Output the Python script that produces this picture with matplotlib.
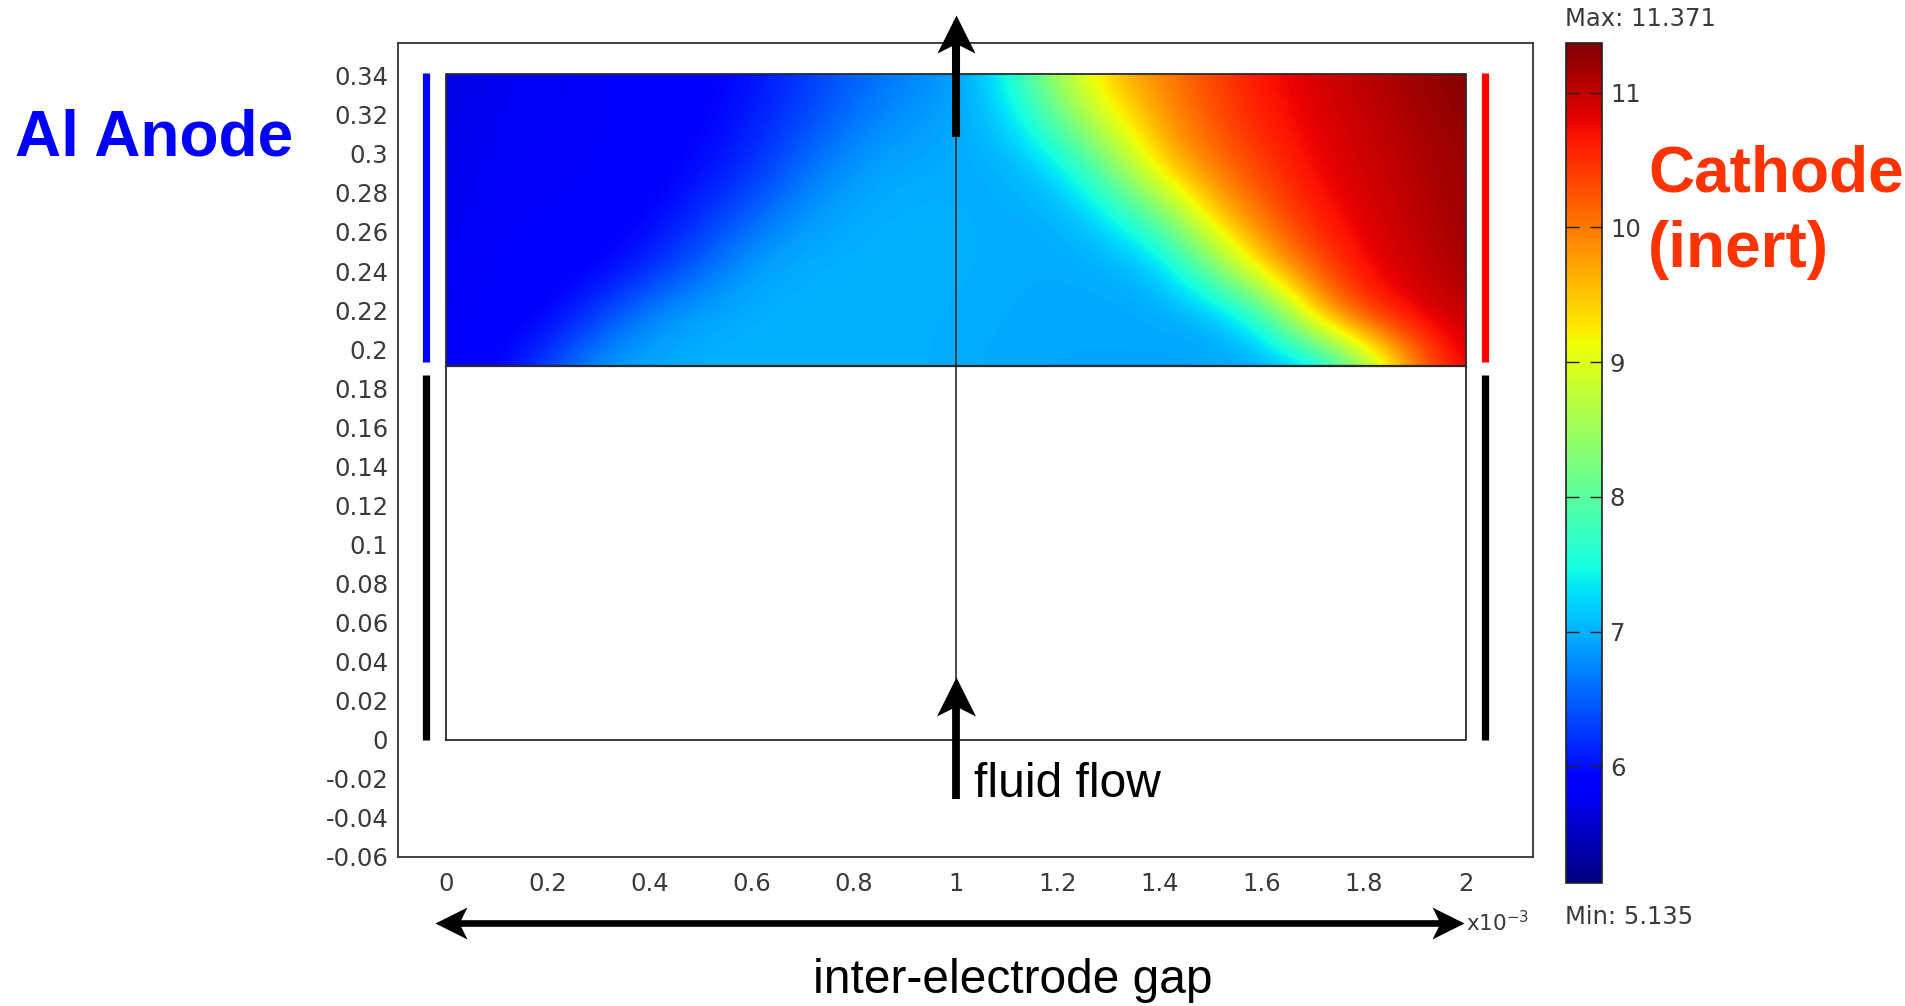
import numpy as np
import matplotlib
matplotlib.use("Agg")
import matplotlib.pyplot as plt
from matplotlib.patches import Rectangle
from matplotlib.path import Path
from matplotlib.markers import MarkerStyle
from matplotlib.ticker import FixedLocator, FuncFormatter

plt.rcParams["axes.unicode_minus"] = False

# ---------------- data ----------------
# concentration field in the electrode zone, x in units of 1e-3 m
x_nodes = [0.0, 0.1, 0.2, 0.3, 0.4, 0.5, 0.6, 0.7, 0.8, 0.9, 1.0,
           1.1, 1.2, 1.3, 1.4, 1.5, 1.6, 1.7, 1.8, 1.9, 2.0]
# rows from top (y = 0.341) to bottom (y = 0.1915) of the electrode zone
y_nodes = [0.341, 0.3161, 0.2912, 0.2663, 0.2413, 0.2164, 0.1915]
row_y0341 = [5.67, 5.76, 5.78, 5.81, 5.84, 5.88, 6.00, 6.25, 6.50, 6.70, 6.85,
             7.45, 8.65, 9.50, 9.95, 10.35, 10.70, 10.88, 11.05, 11.20, 11.37]
row_y0316 = [5.70, 5.78, 5.79, 5.81, 5.85, 5.90, 6.08, 6.35, 6.65, 6.85, 6.95,
             7.15, 8.00, 9.00, 9.75, 10.25, 10.60, 10.82, 10.97, 11.12, 11.27]
row_y0291 = [5.72, 5.80, 5.80, 5.83, 5.87, 5.98, 6.20, 6.60, 6.88, 6.97, 6.97,
             6.97, 7.20, 8.10, 9.35, 9.95, 10.40, 10.75, 10.92, 11.07, 11.22]
row_y0266 = [5.74, 5.82, 5.82, 5.85, 5.92, 6.20, 6.55, 6.88, 6.98, 7.00, 7.00,
             6.97, 6.97, 7.25, 8.00, 9.35, 10.05, 10.60, 10.85, 11.03, 11.20]
row_y0241 = [5.76, 5.84, 5.85, 5.90, 6.15, 6.55, 6.92, 7.00, 7.00, 7.00, 7.00,
             6.97, 6.96, 6.96, 7.08, 8.10, 9.45, 10.20, 10.75, 10.95, 11.15]
row_y0216 = [5.78, 5.86, 5.90, 6.30, 6.80, 6.97, 7.00, 7.00, 7.00, 7.00, 6.98,
             6.96, 6.95, 6.95, 6.95, 6.95, 7.50, 9.40, 10.40, 10.80, 11.00]
row_y0192 = [5.80, 5.90, 6.35, 6.90, 6.97, 7.00, 7.00, 7.00, 7.00, 7.00, 6.97,
             6.95, 6.93, 6.93, 6.93, 6.93, 6.93, 7.00, 8.20, 9.90, 10.85]
c_min, c_max = 5.135, 11.371
cbar_ticks = [6, 7, 8, 9, 10, 11]

# geometry of the cell
channel_x = (0.0, 2.0)
channel_bottom, electrode_bottom, channel_top = 0.0, 0.1915, 0.341
mid_x = 1.0
anode_x, cathode_x = -0.039, 2.038
active_span = (0.1935, 0.3415)
insulated_span = (0.0, 0.187)

x_ticks = [0, 0.2, 0.4, 0.6, 0.8, 1, 1.2, 1.4, 1.6, 1.8, 2]
y_ticks = [-0.06, -0.04, -0.02, 0, 0.02, 0.04, 0.06, 0.08, 0.1, 0.12, 0.14,
           0.16, 0.18, 0.2, 0.22, 0.24, 0.26, 0.28, 0.3, 0.32, 0.34]

# ---------------- figure ----------------
W, H = 1905, 1006
fig = plt.figure(figsize=(W / 100, H / 100), dpi=100)
fig.patch.set_facecolor("white")

ax = fig.add_axes([398 / W, (H - 857) / H, (1533 - 398) / W, (857 - 42.5) / H])

grid = np.array([row_y0341, row_y0316, row_y0291, row_y0266,
                 row_y0241, row_y0216, row_y0192])
dx = x_nodes[1] - x_nodes[0]
dy = y_nodes[0] - y_nodes[1]
im = ax.imshow(grid, extent=(x_nodes[0] - dx / 2, x_nodes[-1] + dx / 2,
                             y_nodes[-1] - dy / 2, y_nodes[0] + dy / 2),
               origin="upper", cmap="jet", vmin=c_min, vmax=c_max,
               interpolation="bicubic", interpolation_stage="data",
               aspect="auto", zorder=1)
clip = Rectangle((channel_x[0], electrode_bottom), channel_x[1] - channel_x[0],
                 channel_top - electrode_bottom, transform=ax.transData,
                 facecolor="none", edgecolor="none")
im.set_clip_path(clip)

# cell outline and inner lines
lc = "#2a2a2a"
ax.plot([channel_x[0], channel_x[1], channel_x[1], channel_x[0], channel_x[0]],
        [channel_bottom, channel_bottom, channel_top, channel_top, channel_bottom],
        color=lc, lw=1.3, zorder=3)
ax.plot(channel_x, [electrode_bottom, electrode_bottom], color=lc, lw=1.6, zorder=3)
ax.plot([mid_x, mid_x], [channel_bottom, channel_top], color=lc, lw=1.2, zorder=3)

# electrodes
bar_kw = dict(lw=5.2, solid_capstyle="butt", zorder=4, clip_on=False)
ax.plot([anode_x, anode_x], active_span, color="#0000ff", **bar_kw)
ax.plot([anode_x, anode_x], insulated_span, color="black", **bar_kw)
ax.plot([cathode_x, cathode_x], active_span, color="#ff0000", **bar_kw)
ax.plot([cathode_x, cathode_x], insulated_span, color="black", **bar_kw)

# notched ("stealth") arrow head, tip at the origin, pointing to +x
head_path = Path([(0, 0), (-1, 0.5), (-0.75, 0), (-1, -0.5), (0, 0)],
                 [Path.MOVETO, Path.LINETO, Path.LINETO, Path.LINETO, Path.CLOSEPOLY])
PX_PER_X, PX_PER_Y = 510.0, 1953.0


def head(tip, head_px, angle):
    ax.plot([tip[0]], [tip[1]], marker=MarkerStyle(head_path).rotated(deg=angle),
            ms=2 * head_px * 0.72, color="black", mew=0, clip_on=False, zorder=7)


def shaft(p0, p1, lw):
    ax.plot([p0[0], p1[0]], [p0[1], p1[1]], color="black", lw=lw,
            solid_capstyle="butt", clip_on=False, zorder=6)


# flow arrows (vertical)
top_tail, top_tip = (mid_x, 0.3088), (mid_x, 0.3712)
shaft(top_tail, (mid_x, top_tip[1] - 19 / PX_PER_Y), 5.8)
head(top_tip, 38, 90)
bot_tail, bot_tip = (mid_x, -0.0302), (mid_x, 0.0323)
shaft(bot_tail, (mid_x, bot_tip[1] - 19 / PX_PER_Y), 5.6)
head(bot_tip, 39, 90)

# inter-electrode gap double arrow
gap_y = -0.0937
gap_left, gap_right = -0.0216, 1.996
shaft((gap_left + 16 / PX_PER_X, gap_y), (gap_right - 16 / PX_PER_X, gap_y), 4.8)
head((gap_left, gap_y), 32, 180)
head((gap_right, gap_y), 32, 0)

ax.text(1.035, -0.0292, "fluid flow", fontsize=34.5, family="Liberation Sans",
        ha="left", va="baseline", color="black")

# axes styling
ax.set_xlim(-0.0941, 2.1314)
ax.set_ylim(-0.06, 0.357)
ax.xaxis.set_major_locator(FixedLocator(x_ticks))
ax.yaxis.set_major_locator(FixedLocator(y_ticks))
fmt = FuncFormatter(lambda v, p: "%g" % (round(v, 2) + 0.0))
ax.xaxis.set_major_formatter(fmt)
ax.yaxis.set_major_formatter(fmt)
ax.tick_params(axis="both", length=0, labelsize=17.5, labelcolor="#3a3a3a")
ax.tick_params(axis="x", pad=11)
ax.tick_params(axis="y", pad=7)
for s in ax.spines.values():
    s.set_color("#333333")
    s.set_linewidth(1.3)

# colorbar
cax = fig.add_axes([1566 / W, (H - 883) / H, 35.5 / W, (883 - 42.7) / H])
cb = fig.colorbar(im, cax=cax, ticks=cbar_ticks)
cb.outline.set_edgecolor("#222222")
cb.outline.set_linewidth(1.2)
cax.tick_params(axis="y", which="major", left=True, right=True, direction="in",
                length=9, width=1.0, color="#222222", labelleft=False,
                labelright=True, labelsize=17.5, labelcolor="#3a3a3a", pad=6)
cax.yaxis.set_major_formatter(FuncFormatter(lambda v, p: "%g" % v))
cax.minorticks_off()

fig.text(1565 / W, (H - 19) / H, "Max: 11.371", fontsize=17.5, color="#3a3a3a",
         ha="left", va="center")
fig.text(1565 / W, (H - 917) / H, "Min: 5.135", fontsize=17.5, color="#3a3a3a",
         ha="left", va="center")
fig.text(1466 / W, (H - 923) / H, r"x10$^{-3}$", fontsize=15.5, color="#3a3a3a",
         ha="left", va="center")

# annotations
fig.text(15 / W, (H - 156) / H, "Al Anode", fontsize=46, fontweight="bold",
         family="Liberation Sans", color="#0000ff", ha="left", va="baseline")
fig.text(1648 / W, (H - 192) / H, "Cathode", fontsize=46, fontweight="bold",
         family="Liberation Sans", color="#ff3300", ha="left", va="baseline")
fig.text(1648 / W, (H - 267) / H, "(inert)", fontsize=46, fontweight="bold",
         family="Liberation Sans", color="#ff3300", ha="left", va="baseline")
fig.text(1013 / W, (H - 993) / H, "inter-electrode gap", fontsize=34.5,
         family="Liberation Sans", color="black", ha="center", va="baseline")

fig.savefig("out.png", dpi=100, facecolor="white")
